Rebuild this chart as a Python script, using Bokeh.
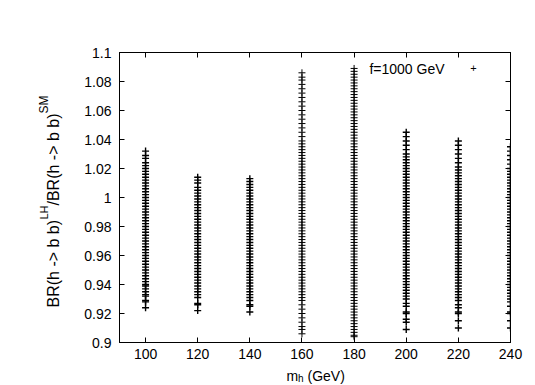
import math
from bokeh.plotting import figure
from bokeh.models import FixedTicker, LinearAxis, Label, CustomJSTickFormatter, ColumnDataSource
from bokeh.embed import file_html
from bokeh.resources import INLINE

# ---- data ----
masses = [100, 120, 140, 160, 180, 200, 220, 240]

br_100 = [0.924, 0.928, 0.929, 0.932, 0.933, 0.935, 0.937, 0.939, 0.940, 0.942, 0.944, 0.946,
          0.948, 0.950, 0.952, 0.954, 0.956, 0.958, 0.960, 0.962, 0.964, 0.966, 0.968, 0.970,
          0.972, 0.974, 0.976, 0.978, 0.980, 0.982, 0.984, 0.986, 0.988, 0.990, 0.992, 0.994,
          0.996, 0.998, 1.000, 1.002, 1.004, 1.006, 1.008, 1.010, 1.012, 1.014, 1.016, 1.018,
          1.020, 1.022, 1.024, 1.027, 1.029, 1.032]
br_120 = [0.922, 0.926, 0.927, 0.931, 0.933, 0.935, 0.937, 0.939, 0.941, 0.943, 0.945, 0.947,
          0.949, 0.951, 0.953, 0.955, 0.957, 0.959, 0.961, 0.963, 0.965, 0.967, 0.969, 0.971,
          0.973, 0.975, 0.977, 0.979, 0.981, 0.983, 0.985, 0.987, 0.989, 0.991, 0.993, 0.995,
          0.997, 0.999, 1.001, 1.003, 1.005, 1.007, 1.010, 1.012, 1.014]
br_140 = [0.921, 0.925, 0.926, 0.929, 0.931, 0.933, 0.935, 0.937, 0.939, 0.941, 0.943, 0.945,
          0.947, 0.949, 0.951, 0.953, 0.955, 0.957, 0.959, 0.961, 0.963, 0.965, 0.967, 0.969,
          0.971, 0.973, 0.975, 0.977, 0.979, 0.981, 0.983, 0.985, 0.987, 0.989, 0.991, 0.993,
          0.995, 0.997, 0.999, 1.001, 1.003, 1.005, 1.007, 1.009, 1.011, 1.013]
br_160 = [0.906, 0.909, 0.911, 0.914, 0.917, 0.920, 0.923, 0.926, 0.929, 0.931, 0.933, 0.935,
          0.937, 0.939, 0.941, 0.943, 0.945, 0.947, 0.949, 0.951, 0.953, 0.955, 0.957, 0.959,
          0.961, 0.963, 0.965, 0.967, 0.969, 0.971, 0.973, 0.975, 0.977, 0.979, 0.981, 0.983,
          0.985, 0.987, 0.989, 0.991, 0.993, 0.995, 0.997, 0.999, 1.001, 1.003, 1.005, 1.007,
          1.009, 1.011, 1.013, 1.015, 1.017, 1.019, 1.021, 1.023, 1.025, 1.027, 1.029, 1.031,
          1.033, 1.035, 1.037, 1.039, 1.042, 1.045, 1.048, 1.051, 1.054, 1.057, 1.060, 1.063,
          1.066, 1.069, 1.072, 1.075, 1.078, 1.081, 1.083, 1.086]
br_180 = [0.904, 0.905, 0.907, 0.909, 0.911, 0.913, 0.915, 0.917, 0.919, 0.921, 0.923, 0.925,
          0.927, 0.929, 0.931, 0.933, 0.935, 0.937, 0.939, 0.941, 0.943, 0.945, 0.947, 0.949,
          0.951, 0.953, 0.955, 0.957, 0.959, 0.961, 0.963, 0.965, 0.967, 0.969, 0.971, 0.973,
          0.975, 0.977, 0.979, 0.981, 0.983, 0.985, 0.987, 0.989, 0.991, 0.993, 0.995, 0.997,
          0.999, 1.001, 1.003, 1.005, 1.007, 1.009, 1.011, 1.013, 1.015, 1.017, 1.019, 1.021,
          1.023, 1.025, 1.027, 1.029, 1.031, 1.033, 1.035, 1.037, 1.039, 1.041, 1.043, 1.045,
          1.047, 1.049, 1.051, 1.053, 1.055, 1.057, 1.059, 1.061, 1.063, 1.065, 1.067, 1.069,
          1.071, 1.073, 1.075, 1.077, 1.079, 1.081, 1.083, 1.085, 1.087, 1.089]
br_200 = [0.909, 0.914, 0.916, 0.920, 0.921, 0.925, 0.927, 0.930, 0.932, 0.934, 0.936, 0.938,
          0.940, 0.942, 0.944, 0.946, 0.948, 0.950, 0.952, 0.954, 0.956, 0.958, 0.960, 0.962,
          0.964, 0.966, 0.968, 0.970, 0.972, 0.974, 0.976, 0.978, 0.980, 0.982, 0.984, 0.986,
          0.988, 0.990, 0.992, 0.994, 0.996, 0.998, 1.000, 1.002, 1.004, 1.006, 1.008, 1.010,
          1.012, 1.014, 1.016, 1.018, 1.020, 1.022, 1.024, 1.026, 1.028, 1.030, 1.033, 1.036,
          1.039, 1.042, 1.045]
br_220 = [0.910, 0.915, 0.920, 0.921, 0.924, 0.926, 0.929, 0.931, 0.933, 0.935, 0.937, 0.939,
          0.941, 0.943, 0.945, 0.947, 0.949, 0.951, 0.953, 0.955, 0.957, 0.959, 0.961, 0.963,
          0.965, 0.967, 0.969, 0.971, 0.973, 0.975, 0.977, 0.979, 0.981, 0.983, 0.985, 0.987,
          0.989, 0.991, 0.993, 0.995, 0.997, 0.999, 1.001, 1.003, 1.005, 1.007, 1.009, 1.011,
          1.013, 1.015, 1.017, 1.019, 1.021, 1.024, 1.027, 1.030, 1.033, 1.036, 1.039]
br_240 = [0.910, 0.915, 0.920, 0.921, 0.925, 0.928, 0.930, 0.932, 0.934, 0.936, 0.938, 0.940,
          0.942, 0.944, 0.946, 0.948, 0.950, 0.952, 0.954, 0.956, 0.958, 0.960, 0.962, 0.964,
          0.966, 0.968, 0.970, 0.972, 0.974, 0.976, 0.978, 0.980, 0.982, 0.984, 0.986, 0.988,
          0.990, 0.992, 0.994, 0.996, 0.998, 1.000, 1.002, 1.004, 1.006, 1.008, 1.010, 1.012,
          1.014, 1.016, 1.018, 1.020, 1.023, 1.026, 1.029, 1.032, 1.035]

x_ticks = [100, 120, 140, 160, 180, 200, 220, 240]
y_ticks = [0.90, 0.92, 0.94, 0.96, 0.98, 1.00, 1.02, 1.04, 1.06, 1.08, 1.10]
legend_label = "f=1000 GeV"

# ---- build the plot ----
series = [br_100, br_120, br_140, br_160, br_180, br_200, br_220, br_240]
xs, ys, lws = [], [], []
for m, vals in zip(masses, series):
    xs += [m] * len(vals)
    ys += vals
    lws += [1.0 if m in (160, 180) else 1.4] * len(vals)
src = ColumnDataSource(dict(x=xs, y=ys, lw=lws))

XR = (90, 240)
YR = (0.9, 1.1)
FONT = "Liberation Sans"

# frame position in the picture (px)
FL, FR, FT, FB = 119, 510, 52, 342
W, H = 527, 384

p = figure(width=W, height=H, x_range=XR, y_range=YR,
           output_backend="svg", toolbar_location=None,
           min_border_left=FL, min_border_right=W - FR, min_border_top=FT, min_border_bottom=H - FB)
p.grid.visible = False
p.outline_line_color = "black"
p.outline_line_width = 1
p.background_fill_color = "white"
p.border_fill_color = "white"

p.scatter("x", "y", source=src, marker="cross", size=7, line_color="black", line_width="lw")

fmt = CustomJSTickFormatter(code="return String(Math.round(tick*100)/100);")
blank = CustomJSTickFormatter(code="return '';")


def style_axis(ax, ticks, formatter, standoff, size="14px"):
    ax.ticker = FixedTicker(ticks=ticks)
    ax.formatter = formatter
    ax.major_tick_in = 5
    ax.major_tick_out = 0
    ax.minor_tick_line_color = None
    ax.axis_line_color = "black"
    ax.major_tick_line_color = "black"
    ax.major_label_text_font = FONT
    ax.major_label_text_font_size = size
    ax.major_label_text_color = "black"
    ax.major_label_standoff = standoff


style_axis(p.xaxis[0], x_ticks, fmt, 6)
style_axis(p.yaxis[0], y_ticks, fmt, 8)
top_ax = LinearAxis()
right_ax = LinearAxis()
p.add_layout(top_ax, "above")
p.add_layout(right_ax, "right")
style_axis(top_ax, x_ticks, blank, 0, "0px")
style_axis(right_ax, y_ticks, blank, 0, "0px")


def lab(px, py, text, size, angle=0.0, align="left", place=None):
    """Text at picture pixel (px, py): canvas units outside the frame, frame-relative inside."""
    if place is None:
        l = Label(x=px - FL, y=FB - py, x_units="screen", y_units="screen",
                  text=text, angle=angle, text_font=FONT, text_font_size=size,
                  text_color="black", text_align=align, text_baseline="alphabetic")
        p.add_layout(l)
    else:
        l = Label(x=px, y=py, x_units="canvas", y_units="canvas",
                  text=text, angle=angle, text_font=FONT, text_font_size=size,
                  text_color="black", text_align=align, text_baseline="alphabetic")
        p.add_layout(l, place)


# y axis title with superscripts
rot = math.pi / 2
lab(53, 307, "BR(h -> b b)", "16px", rot, place="left")
lab(43, 219, "LH", "11px", rot, place="left")
lab(53, 205, "/BR(h -> b b)", "16px", rot, place="left")
lab(43, 113, "SM", "12px", rot, place="left")

# x axis title with subscript
lab(286, 375, "m", "14px", place="above")
lab(297.5, 378, "h", "10px", place="above")
lab(307, 375, "(GeV)", "14px", place="above")

# key
lab(444, 68, legend_label, "14px", align="right")
lab(473, 67, "+", "11px", align="center")

open("out.html", "w").write(file_html(p, INLINE))
